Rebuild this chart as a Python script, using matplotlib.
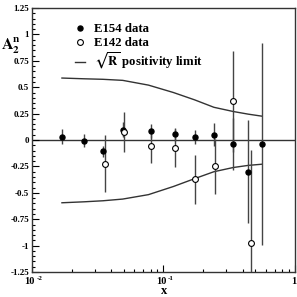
import matplotlib
matplotlib.use("Agg")
import matplotlib.pyplot as plt
import numpy as np
from matplotlib.lines import Line2D
from matplotlib.ticker import FixedLocator, LogLocator, NullFormatter, MultipleLocator

plt.rcParams['font.family'] = ['Liberation Serif', 'DejaVu Serif']
plt.rcParams['font.weight'] = 'bold'
plt.rcParams['mathtext.fontset'] = 'stix'

# E154 data
e154_x = [0.0169, 0.0248, 0.0347, 0.049, 0.080, 0.123, 0.173, 0.242, 0.340, 0.442, 0.561]
e154_y = [0.031, -0.006, -0.108, 0.098, 0.086, 0.054, 0.029, 0.05, -0.041, -0.30, -0.038]
e154_err = [0.07, 0.06, 0.05, 0.07, 0.07, 0.06, 0.07, 0.11, 0.245, 0.49, 0.96]

# E142 data
e142_x = [0.0359, 0.050, 0.0807, 0.123, 0.173, 0.245, 0.340, 0.462]
e142_y = [-0.226, 0.079, -0.06, -0.076, -0.371, -0.25, 0.365, -0.978]
e142_err = [0.27, 0.19, 0.16, 0.18, 0.23, 0.26, 0.475, 0.88]

# sqrt(R) positivity limit
lim_x = [0.0169, 0.0248, 0.0347, 0.049, 0.0769, 0.119, 0.173, 0.242, 0.340, 0.442, 0.561]
lim_up = [0.587, 0.58, 0.575, 0.565, 0.52, 0.45, 0.38, 0.31, 0.27, 0.245, 0.226]
lim_lo = [-0.594, -0.585, -0.575, -0.559, -0.517, -0.44, -0.365, -0.30, -0.26, -0.24, -0.229]

ytick_vals = [-1.25, -1, -0.75, -0.5, -0.25, 0, 0.25, 0.5, 0.75, 1, 1.25]
ytick_labels = ['-1.25', '-1', '-0.75', '-0.5', '-0.25', '0', '0.25', '0.5', '0.75', '1', '1.25']
xtick_vals = [0.01, 0.1, 1]
xtick_bases = ['10', '10', '1']
xtick_exps = ['-2', '-1', '']

fig = plt.figure(figsize=(2.97, 2.97), dpi=100)
ax = fig.add_axes([0.1077, 0.084, 0.8853, 0.889])

ax.axhline(0, color='#333333', lw=1.0, zorder=1)
ax.plot(lim_x, lim_up, color='#333333', lw=1.0)
ax.plot(lim_x, lim_lo, color='#333333', lw=1.0)

ax.errorbar(e154_x, e154_y, yerr=e154_err, fmt='o', color='black', ecolor='#444444',
            elinewidth=1.0, capsize=0, markersize=3.6, zorder=3)
ax.errorbar(e142_x, e142_y, yerr=e142_err, fmt='o', mfc='white', mec='black', ecolor='#444444',
            elinewidth=1.0, capsize=0, markersize=4.2, mew=0.8, zorder=3)

ax.set_xscale('log')
ax.set_xlim(0.01, 1)
ax.set_ylim(-1.25, 1.25)

ax.yaxis.set_major_locator(FixedLocator(ytick_vals))
ax.set_yticklabels(ytick_labels, fontsize=6.5, fontweight='bold')
ax.yaxis.set_minor_locator(MultipleLocator(0.05))
ax.xaxis.set_major_locator(FixedLocator(xtick_vals))
ax.xaxis.set_major_formatter(NullFormatter())
ax.xaxis.set_minor_locator(LogLocator(base=10, subs=np.arange(2, 10)))
ax.xaxis.set_minor_formatter(NullFormatter())

for xv, base, exp in zip(xtick_vals, xtick_bases, xtick_exps):
    ax.annotate(base, xy=(xv, 0), xycoords=('data', 'axes fraction'),
                xytext=(-1.8 if exp else -1.0, -3.5), textcoords='offset points',
                ha='center', va='top', fontsize=7.5, fontweight='bold', annotation_clip=False)
    if exp:
        ax.annotate(exp, xy=(xv, 0), xycoords=('data', 'axes fraction'),
                    xytext=(3.4, -2.5), textcoords='offset points',
                    ha='left', va='top', fontsize=5, fontweight='bold', annotation_clip=False)

ax.tick_params(axis='both', which='both', direction='in', top=False, right=False, width=0.8)
ax.tick_params(axis='both', which='major', length=5, pad=2)
ax.tick_params(axis='both', which='minor', length=2.5)
for s in ax.spines.values():
    s.set_linewidth(1.0)
    s.set_color('#333333')

h1 = Line2D([], [], ls='none', marker='o', color='black', markersize=3.6)
h2 = Line2D([], [], ls='none', marker='o', mfc='white', mec='black', markersize=4.2, mew=0.8)
h3 = Line2D([], [], color='#333333', lw=1.0)
ax.legend([h1, h2, h3], ['E154 data', 'E142 data', r'$\sqrt{\mathbf{R}}$ positivity limit'],
          loc='upper left', bbox_to_anchor=(0.135, 0.972), frameon=False,
          prop={'family': 'Liberation Serif', 'weight': 'bold', 'size': 9.2},
          handlelength=0.8, handletextpad=0.7, labelspacing=0.15, borderaxespad=0.2)

fig.text(0.005, 0.845, r'$\mathbf{A_2^n}$', fontsize=11.5, ha='left', va='center')
fig.text(0.553, 0.0, 'x', fontsize=9, fontweight='bold', ha='center', va='bottom')

fig.savefig('out.png', dpi=100)
